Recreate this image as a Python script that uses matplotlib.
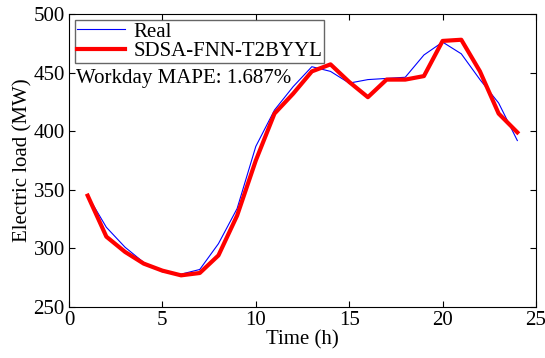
import matplotlib
matplotlib.use("Agg")
import matplotlib.pyplot as plt

hours = list(range(1, 25))
real = [345, 318, 301, 288, 280, 278, 282, 304, 334, 387, 418, 438,
        455, 451, 441, 444, 445, 446, 465, 476, 466, 444, 424, 392]
pred = [345, 310, 297, 287, 281, 277, 279, 294, 328, 375, 415, 432,
        451, 457, 442, 429, 444, 444, 447, 477, 478, 451, 415, 399]
xticks = [0, 5, 10, 15, 20, 25]
yticks = [250, 300, 350, 400, 450, 500]

FS = 15
plt.rcParams['font.family'] = ['Liberation Serif', 'DejaVu Serif']
fig = plt.figure(figsize=(5.45, 3.58), dpi=100)
ax = fig.add_axes([0.1266, 0.1425, 0.8569, 0.8185])
ax.plot(hours, real, color='blue', lw=0.8, label='Real')
ax.plot(hours, pred, color='red', lw=3, label='SDSA-FNN-T2BYYL')
ax.set_xlim(0, 25)
ax.set_ylim(250, 500)
ax.set_xticks(xticks)
ax.set_yticks(yticks)
ax.tick_params(direction='in', top=True, right=True, labelsize=FS, length=4, width=0.8)
ax.tick_params(axis='x', pad=3)
ax.tick_params(axis='y', pad=3)
for s in ax.spines.values():
    s.set_linewidth(0.8)
ax.set_xlabel('Time (h)', fontsize=FS, labelpad=0)
ax.set_ylabel('Electric load (MW)', fontsize=FS, labelpad=1)
leg = ax.legend(loc='upper left', fontsize=FS, frameon=True, fancybox=False,
                edgecolor='#404040', borderpad=0.1, labelspacing=0.0,
                handlelength=2.3, handletextpad=0.4, borderaxespad=0.29)
leg.get_frame().set_linewidth(1.0)
ax.text(0.4, 445, 'Workday MAPE: 1.687%', fontsize=FS, va='center', ha='left')
fig.savefig('out.png', dpi=100)
